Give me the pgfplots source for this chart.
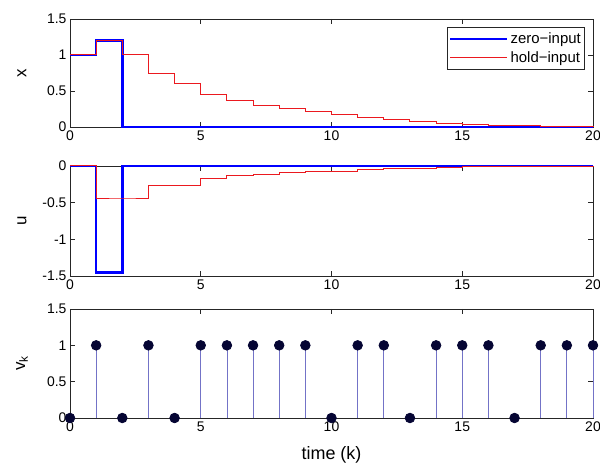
\documentclass[border=0pt]{standalone}
\usepackage{fontspec}
\setmainfont{Liberation Sans}
\usepackage{pgfplots}
\pgfplotsset{compat=1.18}
\definecolor{mblue}{rgb}{0,0,1}
\definecolor{mred}{rgb}{0.92,0.1,0.12}
\definecolor{navy}{rgb}{0.02,0.02,0.2}
\definecolor{stemcol}{rgb}{0.45,0.45,0.78}
\begin{document}
\begin{tikzpicture}
\path[use as bounding box] (0bp,0bp) rectangle (600bp,468bp);
\pgfplotsset{
 mystyle/.style={
  scale only axis, width=523bp, xmin=0, xmax=20, xtick={0,5,10,15,20},
  tick pos=both, tick align=inside, major tick length=5bp,
  axis line style={black!85, line width=0.7pt},
  tick style={black!85, line width=0.6pt},
  ticklabel style={font=\fontsize{14}{16}\selectfont},
  /pgf/number format/assume math mode=true,
  clip=false,
  every axis y label/.style={at={(rel axis cs:0,0.5)}, xshift=-48bp, rotate=90, anchor=center, font=\fontsize{17}{19}\selectfont},
  anchor=south west,
 }
}
% top axis: x
\begin{axis}[mystyle, at={(70bp,341bp)}, height=108bp, ymin=0, ymax=1.5, ytick={0,0.5,1,1.5},
  ylabel={x},
  legend cell align=left,
  legend style={at={(rel axis cs:0.985,0.926)}, anchor=north east, draw=black!85, fill=white,
    font=\fontsize{15}{17}\selectfont, inner xsep=2bp, inner ysep=3.5bp, row sep=2.5bp, line width=0.7pt},
  legend image code/.code={\path (-7bp,0bp) -- (50bp,0bp); \draw[#1] (0bp,0bp) -- (50bp,0bp);}]
\addplot[mblue, line width=2.4bp, const plot] coordinates {
(0,1)(1,1.2)(2,0)(3,0)(4,0)(5,0)(6,0)(7,0)(8,0)(9,0)(10,0)(11,0)(12,0)(13,0)(14,0)(15,0)(16,0)(17,0)(18,0)(19,0)(20,0)};
\addlegendentry{zero−input}
\addplot[mred, line width=1bp, const plot] coordinates {
(0,1)(1,1.2)(2,1.0)(3,0.74)(4,0.61)(5,0.45)(6,0.37)(7,0.30)(8,0.25)(9,0.21)(10,0.17)(11,0.13)(12,0.10)(13,0.08)(14,0.05)(15,0.035)(16,0.025)(17,0.02)(18,0.012)(19,0.008)(20,0.005)};
\addlegendentry{hold−input}
\end{axis}
% middle axis: u
\begin{axis}[mystyle, at={(70bp,192bp)}, height=110bp, ymin=-1.5, ymax=0, ytick={-1.5,-1,-0.5,0},
  ylabel={u}]
\addplot[mblue, line width=2.4bp, const plot] coordinates {
(0,0)(1,-1.45)(2,0)(3,0)(4,0)(5,0)(6,0)(7,0)(8,0)(9,0)(10,0)(11,0)(12,0)(13,0)(14,0)(15,0)(16,0)(17,0)(18,0)(19,0)(20,0)};
\addplot[mred, line width=1bp, const plot] coordinates {
(0,0)(1,-0.45)(2,-0.45)(3,-0.27)(4,-0.27)(5,-0.17)(6,-0.13)(7,-0.11)(8,-0.09)(9,-0.07)(10,-0.07)(11,-0.045)(12,-0.03)(13,-0.03)(14,-0.02)(15,-0.012)(16,-0.008)(17,-0.008)(18,-0.005)(19,-0.003)(20,-0.002)};
\end{axis}
% bottom axis: v_k
\begin{axis}[mystyle, at={(70bp,50bp)}, height=109bp, ymin=0, ymax=1.5, ytick={0,0.5,1,1.5},
  ylabel={v\textsubscript{k}},
  xlabel={time (k)},
  xlabel style={at={(rel axis cs:0.5,0)}, yshift=-37bp, anchor=center, font=\fontsize{18}{20}\selectfont}]
\addplot[ycomb, stemcol, line width=0.8pt, mark=*, mark size=4.8bp, mark options={fill=navy, draw=navy}] coordinates {
(0,0)(1,1)(2,0)(3,1)(4,0)(5,1)(6,1)(7,1)(8,1)(9,1)(10,0)(11,1)(12,1)(13,0)(14,1)(15,1)(16,1)(17,0)(18,1)(19,1)(20,1)};
\end{axis}
\end{tikzpicture}
\end{document}
